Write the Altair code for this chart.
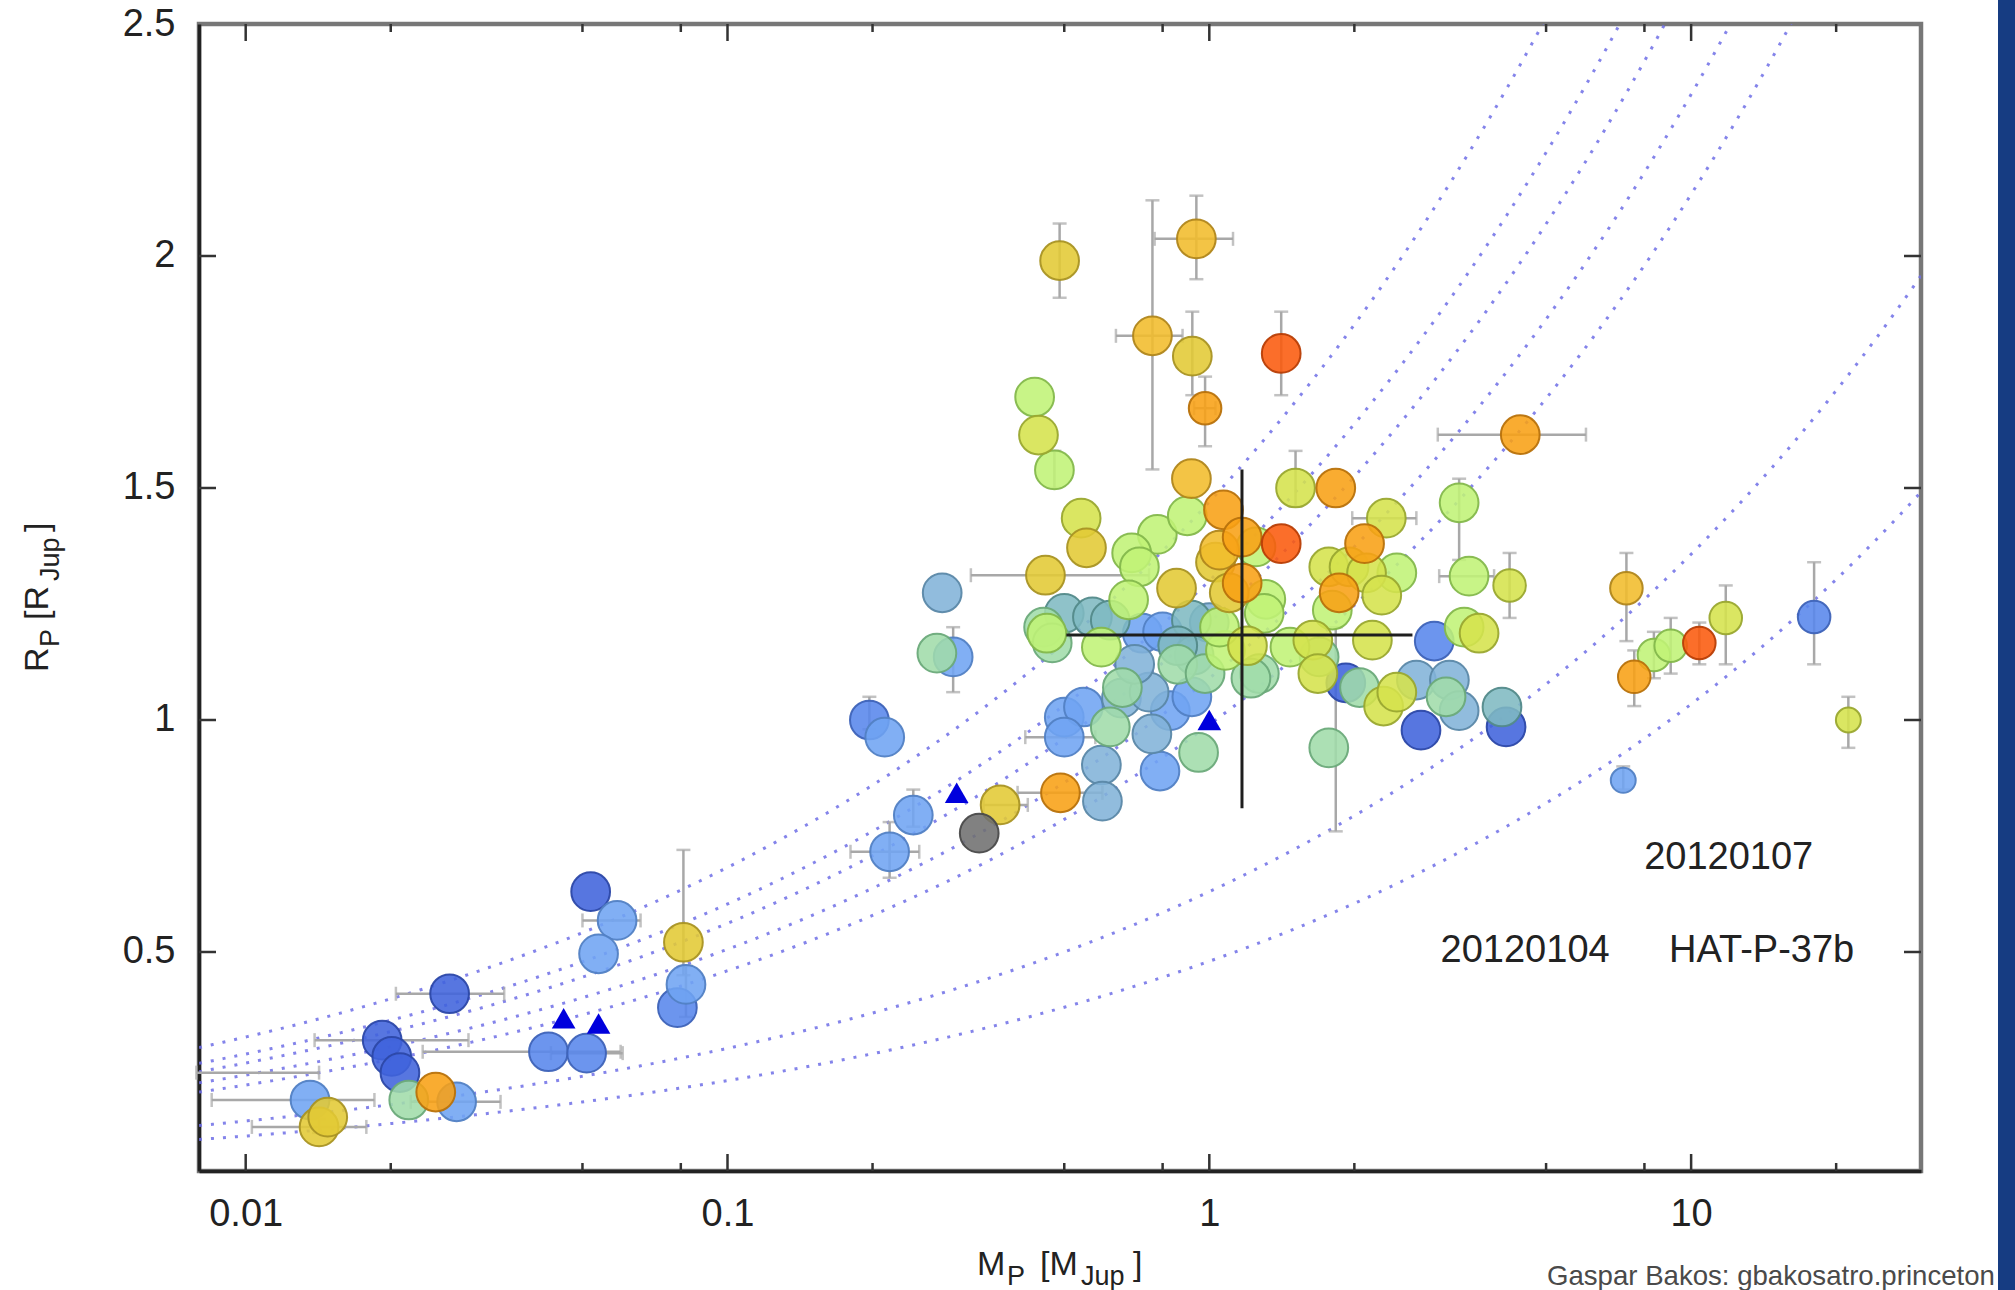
import altair as alt
import numpy as np
import pandas as pd

W, H = 1722, 1147
FONT = "Liberation Sans"

# ---------------------------------------------------------------- planets
# mass in Jupiter masses, radius in Jupiter radii, marker class L / M / S
deepblue_m = [0.0265, 0.0192, 0.0201, 0.0209, 0.052, 1.92, 2.75, 4.13]
deepblue_r = [0.41, 0.31, 0.275, 0.24, 0.63, 1.08, 0.978, 0.985]
deepblue_k = "LLLLLLLL"

blue_m = [0.0425, 0.051, 0.0787, 0.197, 2.93, 18.0]
blue_r = [0.285, 0.282, 0.38, 1.0, 1.17, 1.222]
blue_k = "LLLLLM"

lightblue_m = [0.0136, 0.0274, 0.059, 0.054, 0.082, 0.212, 0.243, 0.217, 0.294,
               0.726, 0.50, 0.548, 0.50, 0.80, 0.83, 0.79, 0.92, 7.23]
lightblue_r = [0.181, 0.177, 0.568, 0.496, 0.43, 0.963, 0.795, 0.716, 1.136,
               1.187, 1.006, 1.028, 0.963, 1.19, 1.02, 0.89, 1.05, 0.87]
lightblue_k = "LLLLLLLLLLLLLLLLLS"

steel_m = [0.279, 0.657, 0.597, 2.69, 3.15, 1.0, 0.75, 0.76, 0.60, 0.70, 3.3]
steel_r = [1.274, 1.047, 0.903, 1.086, 1.086, 1.21, 1.06, 0.97, 0.825, 1.12, 1.02]
steel_k = "LLLLLLLLLLL"

teal_m = [0.50, 0.572, 0.623, 0.918, 0.93, 0.86, 4.05]
teal_r = [1.23, 1.222, 1.215, 1.215, 1.14, 1.16, 1.028]
teal_k = "LLLLLLL"

mint_m = [0.0218, 0.272, 0.453, 0.472, 0.623, 1.27, 1.69, 0.86, 0.95, 0.98,
          1.22, 0.66, 1.77, 3.1, 2.05]
mint_r = [0.181, 1.144, 1.20, 1.166, 0.985, 1.10, 1.136, 1.12, 0.93, 1.10,
          1.09, 1.07, 0.94, 1.05, 1.07]
mint_k = "LLLLLLLLLLLLLLL"

lime_m = [0.434, 0.477, 3.30, 3.46, 0.78, 0.90, 0.69, 0.716, 1.31, 1.25, 2.45,
          3.38, 0.46, 1.80, 1.47, 0.597, 0.68, 1.08, 1.05, 1.30, 8.37, 9.07]
lime_r = [1.696, 1.539, 1.468, 1.31, 1.40, 1.44, 1.36, 1.33, 1.26, 1.373, 1.317,
          1.20, 1.187, 1.237, 1.157, 1.157, 1.259, 1.15, 1.20, 1.23, 1.14, 1.16]
lime_k = "LLLLLLLLLLLLLLLLLLLLMM"

yellowgreen_m = [0.442, 0.542, 1.51, 2.33, 1.77, 1.95, 2.12, 2.28, 3.63, 1.64,
                 2.18, 1.20, 2.3, 2.45, 1.68, 4.2, 11.8, 21.2]
yellowgreen_r = [1.614, 1.435, 1.50, 1.435, 1.33, 1.33, 1.317, 1.269, 1.187,
                 1.172, 1.172, 1.16, 1.03, 1.06, 1.10, 1.29, 1.22, 1.0]
yellowgreen_k = "LLLLLLLLLLLLLLLMMS"

yellow_m = [0.0142, 0.0148, 0.081, 0.368, 0.489, 0.922, 0.556, 0.457, 0.855, 1.03, 1.10]
yellow_r = [0.123, 0.144, 0.521, 0.817, 1.99, 1.784, 1.371, 1.312, 1.284, 1.34, 1.274]
yellow_k = "LLLLLLLLLLL"

gold_m = [0.94, 0.762, 0.918, 1.05, 7.34]
gold_r = [2.037, 1.828, 1.52, 1.366, 1.284]
gold_k = "LLLLM"

orange_m = [0.0248, 0.491, 0.98, 1.07, 1.83, 1.17, 1.17, 2.10, 1.86, 4.42, 7.62]
orange_r = [0.198, 0.843, 1.672, 1.453, 1.50, 1.295, 1.394, 1.38, 1.274, 1.615, 1.093]
orange_k = "LLMLLLLLLLM"

red_m = [1.41, 1.41, 10.4]
red_r = [1.79, 1.38, 1.166]
red_k = "LLM"

gray_m = [0.333]
gray_r = [0.756]
gray_k = "L"

# colour groups: fill and outline
group_names = ["deepblue", "blue", "lightblue", "steel", "teal", "mint", "lime",
               "yellowgreen", "yellow", "gold", "orange", "red", "gray"]
group_fill = ["#4063dc", "#5886ec", "#70a4f2", "#82b3d8", "#80b9c2", "#a0dcaa",
              "#c0f276", "#d5e24c", "#e3ca34", "#f1bc2b", "#f8a014", "#fb5a0c", "#707070"]
group_edge = ["#2c48a8", "#3e63b8", "#5281c4", "#5b88a8", "#538a8a", "#6caa7a",
              "#84b84c", "#9aa830", "#a99424", "#b0861c", "#b8720c", "#b83e06", "#4a4a4a"]

# solar-system planets (triangles)
solar_m = [0.0457, 0.054, 0.299, 1.0]
solar_r = [0.357, 0.346, 0.843, 1.0]

# horizontal error bars: radius, mass low, mass high
hbar_r = [0.181, 0.123, 0.24, 0.31, 0.41, 0.177, 0.285, 0.282, 0.568, 0.716,
          0.843, 0.817, 1.312, 2.037, 1.828, 1.672, 1.435, 1.31, 1.615, 0.963]
hbar_lo = [0.0085, 0.0103, 0.0079, 0.0139, 0.0205, 0.022, 0.0233, 0.043, 0.05, 0.18,
           0.40, 0.34, 0.32, 0.77, 0.64, 0.93, 1.98, 3.0, 2.98, 0.415]
hbar_hi = [0.0185, 0.0178, 0.0142, 0.029, 0.0344, 0.0338, 0.06, 0.0606, 0.066, 0.25,
           0.60, 0.42, 0.75, 1.12, 0.88, 1.03, 2.69, 3.9, 6.05, 0.58]

# vertical error bars: mass, radius low, radius high
vbar_m = [0.081, 0.489, 0.94, 0.762, 0.922, 1.41, 0.98, 0.294, 7.34, 7.62, 8.37,
          9.07, 10.4, 11.8, 18.0, 21.2, 7.23, 4.2, 3.30, 0.477, 0.197, 0.082,
          0.243, 0.217, 1.51, 1.83, 0.0142]
vbar_lo = [0.45, 1.91, 1.95, 1.54, 1.70, 1.70, 1.59, 1.06, 1.17, 1.03, 1.09,
           1.10, 1.12, 1.12, 1.12, 0.94, 0.85, 1.22, 1.345, 1.50, 0.98, 0.36,
           0.77, 0.66, 1.46, 0.76, 0.11]
vbar_hi = [0.72, 2.07, 2.13, 2.12, 1.88, 1.88, 1.74, 1.20, 1.36, 1.15, 1.19,
           1.22, 1.21, 1.29, 1.34, 1.05, 0.90, 1.36, 1.52, 1.58, 1.05, 0.47,
           0.85, 0.78, 1.58, 1.20, 0.14]

# HAT-P-37b with its uncertainty cross
hat_m, hat_r = 1.169, 1.183
hat_m_range = [0.505, 2.64]
hat_r_range = [0.81, 1.54]

# iso-density curves R = k * M^(1/3), k = radius at 1 M_Jup
density_k = [1.47, 1.30, 1.21, 1.09, 0.99, 0.63, 0.48]

# axis ticks
x_major = [0.01, 0.1, 1, 10]
x_minor = [0.02, 0.05, 0.08, 0.2, 0.5, 0.8, 2, 5, 8, 20]
y_major = [0.5, 1, 1.5, 2]
y_labels = [0.5, 1, 1.5, 2, 2.5]

# ---------------------------------------------------------------- tables
rows = []
for name, ms, rs, ks in [
    ("deepblue", deepblue_m, deepblue_r, deepblue_k),
    ("blue", blue_m, blue_r, blue_k),
    ("lightblue", lightblue_m, lightblue_r, lightblue_k),
    ("steel", steel_m, steel_r, steel_k),
    ("teal", teal_m, teal_r, teal_k),
    ("mint", mint_m, mint_r, mint_k),
    ("lime", lime_m, lime_r, lime_k),
    ("yellowgreen", yellowgreen_m, yellowgreen_r, yellowgreen_k),
    ("yellow", yellow_m, yellow_r, yellow_k),
    ("gold", gold_m, gold_r, gold_k),
    ("orange", orange_m, orange_r, orange_k),
    ("red", red_m, red_r, red_k),
    ("gray", gray_m, gray_r, gray_k),
]:
    for m, r, k in zip(ms, rs, ks):
        rows.append({"M": m, "R": r, "g": name, "k": k})
planets = pd.DataFrame(rows)

solar = pd.DataFrame({"M": solar_m, "R": solar_r})
hbars = pd.DataFrame({"R": hbar_r, "lo": hbar_lo, "hi": hbar_hi})
vbars = pd.DataFrame({"M": vbar_m, "lo": vbar_lo, "hi": vbar_hi})

mgrid = np.geomspace(0.008, 30, 500)
curves = pd.concat([
    pd.DataFrame({"M": mgrid, "R": k * np.cbrt(mgrid), "c": i})
    for i, k in enumerate(density_k)
])

xs = alt.Scale(type="log", domain=[0.008, 30], nice=False)
ys = alt.Scale(domain=[0.028, 2.5], nice=False, zero=False)

label_style = dict(labelFont=FONT, labelFontSize=38, labelColor="#222",
                   labelPadding=24, ticks=False, grid=False, title=None,
                   domainColor="#222", domainWidth=3.5, labelOverlap=False)
xaxis = alt.Axis(values=x_major, format="~g", labelFlush=False, **label_style)
yaxis = alt.Axis(values=y_labels, format="~g", **label_style)


def X(field):
    return alt.X(field, type="quantitative", scale=xs, axis=xaxis)


def Y(field):
    return alt.Y(field, type="quantitative", scale=ys, axis=yaxis)


one = pd.DataFrame({"t": [""]})

curve_layer = alt.Chart(curves).mark_line(
    clip=True, color="#6f6fe6", strokeWidth=3, strokeDash=[3, 9], opacity=0.85
).encode(x=X("M"), y=Y("R"), detail="c:N", order="M:Q")

err_color = "#a8a8a8"
hbar_layer = alt.Chart(hbars).mark_rule(color=err_color, strokeWidth=2.5).encode(
    x=X("lo"), x2="hi", y=Y("R"))
hcap_lo = alt.Chart(hbars).mark_tick(orient="vertical", size=14, thickness=2.5,
                                     color=err_color).encode(x=X("lo"), y=Y("R"))
hcap_hi = alt.Chart(hbars).mark_tick(orient="vertical", size=14, thickness=2.5,
                                     color=err_color).encode(x=X("hi"), y=Y("R"))
vbar_layer = alt.Chart(vbars).mark_rule(color=err_color, strokeWidth=2.5).encode(
    x=X("M"), y=Y("lo"), y2="hi")
vcap_lo = alt.Chart(vbars).mark_tick(orient="horizontal", size=14, thickness=2.5,
                                     color=err_color).encode(x=X("M"), y=Y("lo"))
vcap_hi = alt.Chart(vbars).mark_tick(orient="horizontal", size=14, thickness=2.5,
                                     color=err_color).encode(x=X("M"), y=Y("hi"))

planet_layer = alt.Chart(planets).mark_circle(
    fillOpacity=0.88, strokeOpacity=0.95, strokeWidth=2
).encode(
    x=X("M"), y=Y("R"),
    fill=alt.Fill("g:N", scale=alt.Scale(domain=group_names, range=group_fill), legend=None),
    stroke=alt.Stroke("g:N", scale=alt.Scale(domain=group_names, range=group_edge), legend=None),
    size=alt.Size("k:O", scale=alt.Scale(domain=["L", "M", "S"], range=[1500, 620, 400]),
                  legend=None),
)

solar_layer = alt.Chart(solar).mark_point(
    shape="triangle-up", filled=True, color="#0000dd", size=560, opacity=1
).encode(x=X("M"), y=Y("R"))

hat = pd.DataFrame({"M": [hat_m], "R": [hat_r], "mlo": [hat_m_range[0]],
                    "mhi": [hat_m_range[1]], "rlo": [hat_r_range[0]], "rhi": [hat_r_range[1]]})
hat_h = alt.Chart(hat).mark_rule(color="#1e1e1e", strokeWidth=3).encode(
    x=X("mlo"), x2="mhi", y=Y("R"))
hat_v = alt.Chart(hat).mark_rule(color="#1e1e1e", strokeWidth=3).encode(
    x=X("M"), y=Y("rlo"), y2="rhi")

# inward ticks on all four sides
tick_color = "#333"
xmaj = pd.DataFrame({"v": x_major})
xmin = pd.DataFrame({"v": x_minor})
ymaj = pd.DataFrame({"v": y_major})
tick_layers = [
    alt.Chart(xmaj).mark_rule(color=tick_color, strokeWidth=2.5).encode(
        x=X("v"), y=alt.value(H), y2=alt.value(H - 17)),
    alt.Chart(xmaj).mark_rule(color=tick_color, strokeWidth=2.5).encode(
        x=X("v"), y=alt.value(0), y2=alt.value(17)),
    alt.Chart(xmin).mark_rule(color=tick_color, strokeWidth=2.5).encode(
        x=X("v"), y=alt.value(H), y2=alt.value(H - 8)),
    alt.Chart(xmin).mark_rule(color=tick_color, strokeWidth=2.5).encode(
        x=X("v"), y=alt.value(0), y2=alt.value(8)),
    alt.Chart(ymaj).mark_rule(color=tick_color, strokeWidth=2.5).encode(
        y=Y("v"), x=alt.value(0), x2=alt.value(17)),
    alt.Chart(ymaj).mark_rule(color=tick_color, strokeWidth=2.5).encode(
        y=Y("v"), x=alt.value(W), x2=alt.value(W - 17)),
]


def note(txt, m, r, size=38):
    return alt.Chart(one).mark_text(
        text=txt, font=FONT, fontSize=size, color="#222", align="left", baseline="middle"
    ).encode(x=alt.X(datum=m, type="quantitative", scale=xs, axis=xaxis),
             y=alt.Y(datum=r, type="quantitative", scale=ys, axis=yaxis))


def label(txt, px, py, size, angle=0, color="#222", baseline="alphabetic"):
    return alt.Chart(one).mark_text(
        text=txt, font=FONT, fontSize=size, color=color, align="left",
        baseline=baseline, angle=angle
    ).encode(x=alt.value(px), y=alt.value(py))


notes = [
    note("20120107", 7.99, 0.703),
    note("20120104", 3.02, 0.502),
    note("HAT-P-37b", 9.0, 0.502),
]

# axis titles with subscripts
titles = [
    label("M", 778, 1251, 34),
    label("P", 808, 1261, 27),
    label("[M", 841, 1251, 34),
    label("Jup", 882, 1261, 27),
    label("]", 934, 1251, 34),
    label("R", -151, 648, 34, angle=270),
    label("P", -140, 623, 27, angle=270),
    label("[R", -151, 596, 34, angle=270),
    label("Jup", -140, 557, 27, angle=270),
    label("]", -151, 508, 34, angle=270),
    label("Gaspar Bakos: gbakosatro.princeton", 1348, 1261, 27.6, color="#4a4a4a"),
]

strip = alt.Chart(one).mark_rect(color="#163c82").encode(
    x=alt.value(1799), x2=alt.value(1850), y=alt.value(-40), y2=alt.value(1300))

chart = alt.layer(
    curve_layer, hbar_layer, hcap_lo, hcap_hi, vbar_layer, vcap_lo, vcap_hi,
    planet_layer, solar_layer, hat_h, hat_v, *tick_layers, *notes, *titles, strip
).properties(
    width=W, height=H,
    padding={"left": 199, "top": 24, "right": 94, "bottom": 119},
    autosize=alt.AutoSizeParams(type="none"),
    background="white",
).configure_view(stroke="#777", strokeWidth=4.5)

chart.save("out.html", embed_options={"renderer": "svg", "actions": False})
